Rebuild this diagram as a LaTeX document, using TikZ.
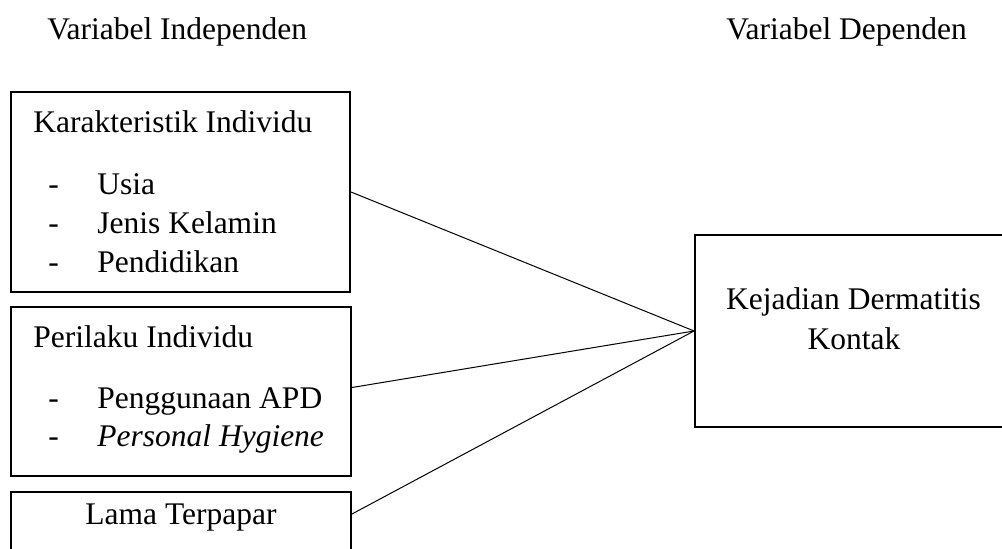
\documentclass[tikz,border=0pt]{standalone}
\usepackage{fontspec}
\setmainfont{Liberation Serif}
\tikzset{
  box/.style={draw, line width=1pt, inner sep=0pt},
  txt/.style={inner sep=0pt, anchor=base west},
  link/.style={line width=0.5pt}
}
\begin{document}
\begin{tikzpicture}[x=0.5pt, y=-0.5pt, font=\fontsize{15.75}{19.5}\selectfont]
\useasboundingbox (0,0) rectangle (1002,549);
\clip (0,0) rectangle (1002,549);

% headings
\node[txt] (hind) at (47,40) {Variabel Independen};
\node[txt] (hdep) at (726,40) {Variabel Dependen};

% left boxes
\node[box, minimum width=169.5pt, minimum height=100pt] (ki) at (180.5,192) {};
\node[txt] (kit) at (33,133) {Karakteristik Individu};
\node[txt] (kid1) at (48,195) {-};
\node[txt] (ki1) at (97,195) {Usia};
\node[txt] (kid2) at (48,234) {-};
\node[txt] (ki2) at (97,234) {Jenis Kelamin};
\node[txt] (kid3) at (48,273) {-};
\node[txt] (ki3) at (97,273) {Pendidikan};

\node[box, minimum width=170pt, minimum height=84.5pt] (pi) at (181,391.5) {};
\node[txt] (pit) at (33,348) {Perilaku Individu};
\node[txt] (pid1) at (48,409) {-};
\node[txt] (pi1) at (97,409) {Penggunaan APD};
\node[txt] (pid2) at (48,447) {-};
\node[txt] (pi2) at (97,447) {\itshape Personal Hygiene};

\node[box, minimum width=170pt, minimum height=54pt] (lt) at (181,546) {};
\node[txt, anchor=base] (ltt) at (181,525) {Lama Terpapar};

% right one
\node[box, minimum width=158.5pt, minimum height=96pt] (kd) at (853.5,331) {};
\node[txt, anchor=base] (kd1) at (853.5,310) {Kejadian Dermatitis};
\node[txt, anchor=base] (kd2) at (854,350) {Kontak};

\coordinate (ltend) at ([yshift=-11.5pt]lt.north east);
\draw[link] (ki.east) -- (kd.west);
\draw[link] ([yshift=2pt]pi.east) -- (kd.west);
\draw[link] (ltend) -- (kd.west);

\end{tikzpicture}
\end{document}
